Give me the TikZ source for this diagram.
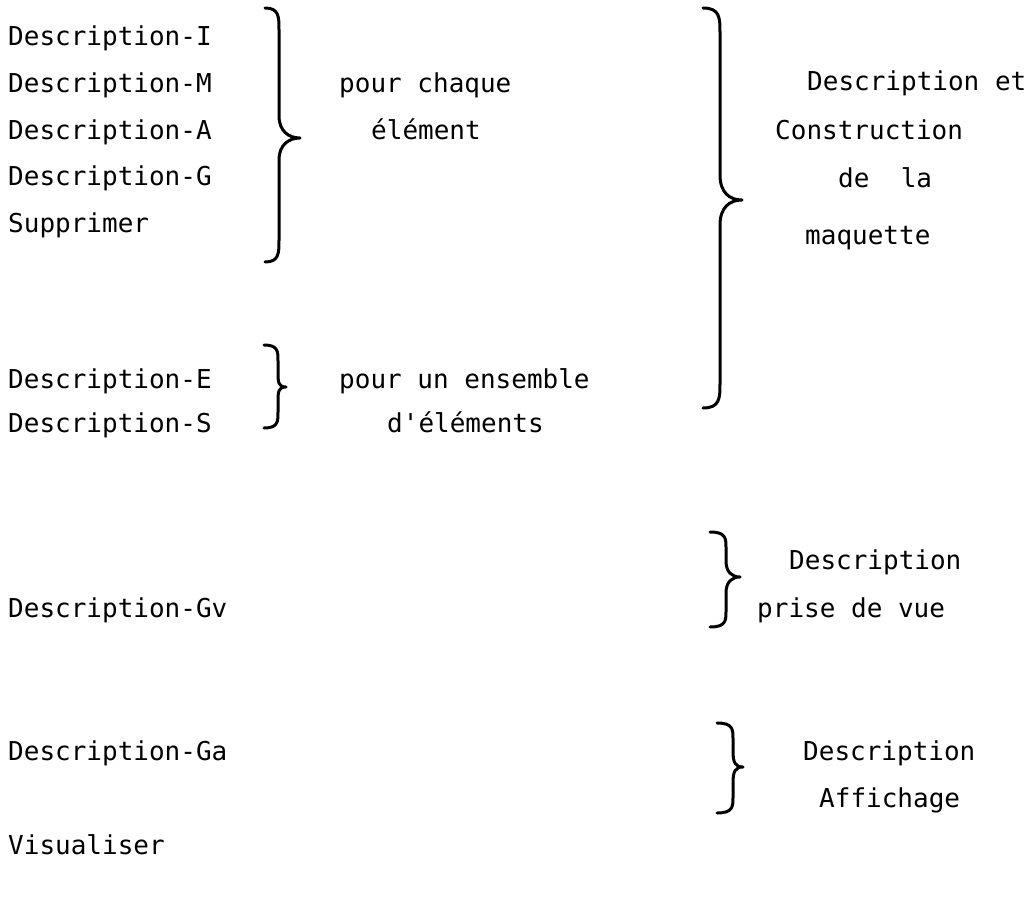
\documentclass[tikz,border=0pt]{standalone}
\usepackage{fontspec}
\setmonofont{DejaVu Sans Mono}
% right curly brace: #1 x of the hooked ends, #2 x of the spine, #3 x of the tip,
% #4 top y, #5 tip y, #6 bottom y, #7 bend size
\newcommand\rightcurl[7]{%
  \draw[bracestroke] (#1,#4) .. controls (#2,#4) and (#2,#4+0.4*#7) .. (#2,#4+#7)
    -- (#2,#5-#7) .. controls (#2,#5-0.3*#7) and (#3-0.5*#7,#5) .. (#3,#5)
    .. controls (#3-0.5*#7,#5) and (#2,#5+0.3*#7) .. (#2,#5+#7)
    -- (#2,#6-#7) .. controls (#2,#6-0.4*#7) and (#2,#6) .. (#1,#6);}
\begin{document}
\begin{tikzpicture}[x=1pt,y=-1pt,
  txt/.style={anchor=mid west, inner sep=0pt, font=\ttfamily\fontsize{26}{30}\selectfont},
  bracestroke/.style={line width=3pt, line cap=round, line join=round}]
\path[use as bounding box] (0,0) rectangle (1033,909);

% commands
\node[txt] (dI) at (8,43)  {Description-I};
\node[txt] (dM) at (8,90)  {Description-M};
\node[txt] (dA) at (8,137) {Description-A};
\node[txt] (dG) at (8,183) {Description-G};
\node[txt] (sup) at (8,230) {Supprimer};
\node[txt] (dE) at (8,386) {Description-E};
\node[txt] (dS) at (8,430) {Description-S};
\node[txt] (dGv) at (8,615) {Description-Gv};
\node[txt] (dGa) at (8,758) {Description-Ga};
\node[txt] (vis) at (8,852) {Visualiser};

% scopes of the commands
\node[txt] (pc) at (339,90)  {pour chaque};
\node[txt] (el) at (371,137) {élément};
\node[txt] (pe) at (339,386) {pour un ensemble};
\node[txt] (de) at (387,430) {d'éléments};

% purposes
\node[txt] (m1) at (807,88)  {Description et};
\node[txt] (m2) at (775,137) {Construction};
\node[txt] (m3) at (838,185) {de\ \ la};
\node[txt] (m4) at (805,242) {maquette};
\node[txt] (p1) at (789,567) {Description};
\node[txt] (p2) at (757,615) {prise de vue};
\node[txt] (a1) at (803,758) {Description};
\node[txt] (a2) at (819,805) {Affichage};

% braces
\rightcurl{265}{279}{300}{8}{138}{262}{22}
\rightcurl{264}{278}{286}{345}{387}{428}{16}
\rightcurl{703}{720}{742}{8}{200}{408}{25}
\rightcurl{710}{726}{740}{532}{577}{627}{16}
\rightcurl{717}{733}{743}{723}{767}{813}{16}
\end{tikzpicture}
\end{document}
